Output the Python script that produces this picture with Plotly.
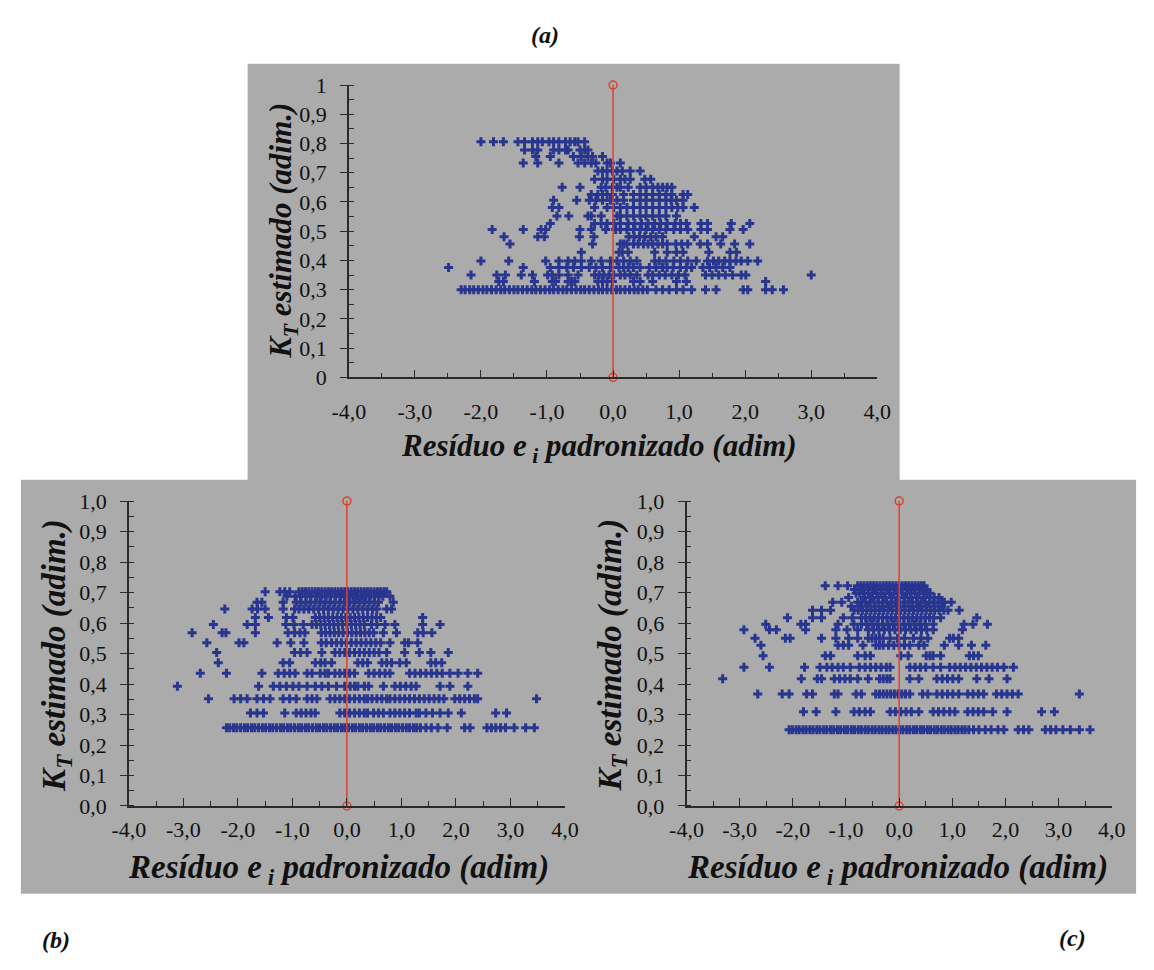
import plotly.graph_objects as go

# ---------------- data ----------------
X_TICKVALS = [-4, -3, -2, -1, 0, 1, 2, 3, 4]
X_TICKTEXT = ["-4,0", "-3,0", "-2,0", "-1,0", "0,0", "1,0", "2,0", "3,0", "4,0"]
Y_TICKVALS = [0, 0.1, 0.2, 0.3, 0.4, 0.5, 0.6, 0.7, 0.8, 0.9, 1.0]
YA_TICKTEXT = ["0", "0,1", "0,2", "0,3", "0,4", "0,5", "0,6", "0,7", "0,8", "0,9", "1"]
YBC_TICKTEXT = ["0,0", "0,1", "0,2", "0,3", "0,4", "0,5", "0,6", "0,7", "0,8", "0,9", "1,0"]

ZERO_LINE_X = [0, 0]
ZERO_LINE_Y = [0, 1]

# Panel (a): KT estimated levels and standardized residuals on each level
A_LEVELS = [0.806, 0.778, 0.756, 0.733, 0.706, 0.678, 0.650, 0.626, 0.606, 0.581, 0.552,
            0.526, 0.506, 0.481, 0.456, 0.428, 0.398, 0.376, 0.350, 0.328, 0.300]
A_ROWS = [
    [-2.00, -1.81, -1.66, -1.44, -1.34, -1.22, -1.14, -1.07, -0.97, -0.90, -0.82, -0.72, -0.65, -0.58, -0.53, -0.43],
    [-1.34, -1.22, -1.14, -0.90, -0.82, -0.72, -0.68, -0.50, -0.43, -0.38],
    [-1.17, -0.95, -0.60, -0.48, -0.38, -0.31, -0.16],
    [-1.36, -1.14, -0.82, -0.53, -0.43, -0.33, -0.26, -0.09, -0.04, 0.11],
    [-0.23, -0.16, -0.09, -0.01, 0.06, 0.14, 0.26, 0.41],
    [-0.28, -0.16, -0.09, 0.01, 0.11, 0.18, 0.26, 0.48, 0.57],
    [-0.77, -0.50, -0.18, -0.11, -0.01, 0.06, 0.11, 0.23, 0.41, 0.50, 0.60, 0.68, 0.75, 0.82, 0.89],
    [-0.33, -0.23, -0.16, -0.09, -0.01, 0.16, 0.31, 0.41, 0.50, 0.60, 0.70, 0.80, 0.89, 1.06, 1.13],
    [-0.90, -0.55, -0.36, -0.26, -0.16, -0.04, 0.06, 0.16, 0.31, 0.41, 0.50, 0.60, 0.70, 0.80, 0.88, 0.96, 1.06],
    [-0.92, -0.82, -0.28, -0.09, 0.01, 0.11, 0.21, 0.31, 0.41, 0.50, 0.60, 0.70, 0.80, 0.89, 0.98, 1.06, 1.23],
    [-0.85, -0.67, -0.38, -0.33, -0.18, 0.06, 0.11, 0.21, 0.31, 0.41, 0.50, 0.60, 0.70, 0.80, 0.96],
    [-0.95, -0.28, -0.18, -0.09, 0.01, 0.11, 0.23, 0.33, 0.43, 0.53, 0.63, 0.72, 0.82, 0.94, 1.02, 1.11, 1.33, 1.43, 1.79, 2.07],
    [-1.83, -1.36, -1.09, -1.02, -0.50, -0.33, -0.11, 0.04, 0.11, 0.21, 0.31, 0.41, 0.50, 0.60, 0.70, 0.80, 0.92, 1.02, 1.13, 1.33, 1.43, 1.77, 1.97],
    [-1.65, -1.14, -1.04, -0.51, -0.29, 0.24, 0.32, 0.40, 0.48, 0.57, 0.65, 0.75, 1.23, 1.56, 1.66],
    [-1.56, -0.31, 0.11, 0.16, 0.21, 0.31, 0.38, 0.46, 0.53, 0.60, 0.68, 0.75, 0.82, 0.95, 1.04, 1.13, 1.32, 1.43, 1.63, 1.84, 2.07],
    [-0.48, 0.09, 0.14, 0.23, 0.63, 0.82, 0.96, 1.06, 1.45, 1.77, 1.87],
    [-2.00, -1.58, -1.02, -0.82, -0.68, -0.58, -0.48, -0.33, -0.18, -0.04, 0.06, 0.16, 0.26, 0.36, 0.63, 0.70, 0.80, 0.92,
     1.02, 1.13, 1.26, 1.43, 1.52, 1.60, 1.69, 1.77, 1.86, 1.94, 2.04, 2.19],
    [-2.49, -1.36, -0.95, -0.82, -0.70, -0.60, -0.48, -0.36, -0.26, -0.16, -0.04, 0.09, 0.16, 0.23, 0.31, 0.41, 0.55, 0.65,
     0.75, 0.82, 0.91, 1.02, 1.11, 1.19, 1.36, 1.46, 1.56, 1.66, 1.77],
    [-2.15, -1.76, -1.63, -1.39, -1.22, -0.99, -0.92, -0.82, -0.68, -0.53, -0.28, -0.21, -0.14, -0.06, 0.01, 0.11, 0.18, 0.26,
     0.36, 0.53, 0.60, 0.70, 0.79, 0.89, 0.99, 1.09, 1.40, 1.50, 1.60, 1.70, 1.81, 1.94, 2.01, 3.00],
    [-1.73, -1.66, -1.19, -0.92, -0.87, -0.68, -0.63, -0.58, -0.23, -0.16, -0.09, -0.01, 0.31, 0.41, 0.60, 0.96, 1.11, 2.31],
    [-2.30, -2.24, -2.17, -2.11, -2.04, -1.97, -1.91, -1.84, -1.77, -1.70, -1.64, -1.57, -1.50, -1.44, -1.37, -1.30, -1.23,
     -1.17, -1.10, -1.03, -0.96, -0.90, -0.83, -0.76, -0.70, -0.63, -0.56, -0.49, -0.43, -0.36, -0.29, -0.22, -0.16, -0.09,
     -0.02, 0.05, 0.11, 0.18, 0.25, 0.32, 0.38, 0.45, 0.52, 0.65, 0.75, 0.85, 0.96, 1.06, 1.19, 1.40, 1.56, 1.97, 2.04,
     2.31, 2.41, 2.58],
]

# Panel (b)
B_LEVELS = [0.703, 0.688, 0.668, 0.646, 0.618, 0.595, 0.568, 0.535, 0.503, 0.470, 0.435,
            0.393, 0.352, 0.305, 0.257]
B_ROWS = [
    [-1.50, -1.23, -1.14, -1.05, -0.88, -0.82, -0.76, -0.70, -0.64, -0.58, -0.52, -0.46, -0.40, -0.34, -0.28, -0.22, -0.16,
     -0.10, -0.04, 0.02, 0.08, 0.14, 0.20, 0.26, 0.32, 0.38, 0.44, 0.50, 0.56, 0.62, 0.68, 0.73],
    [-1.10, -0.95, -0.85, -0.75, -0.66, -0.55, -0.47, -0.38, -0.30, -0.21, -0.12, -0.05, 0.03, 0.11, 0.19, 0.27, 0.35, 0.43,
     0.51, 0.59, 0.66, 0.79],
    [-1.65, -1.56, -1.17, -0.93, -0.84, -0.75, -0.67, -0.58, -0.49, -0.40, -0.31, -0.22, -0.13, -0.04, 0.05, 0.14, 0.23,
     0.32, 0.41, 0.50, 0.58, 0.85],
    [-2.24, -1.74, -1.64, -1.50, -1.17, -0.96, -0.88, -0.79, -0.70, -0.61, -0.52, -0.43, -0.34, -0.25, -0.16, -0.07, 0.02,
     0.11, 0.20, 0.29, 0.38, 0.47, 0.55, 0.73, 0.82],
    [-1.68, -1.44, -1.11, -0.99, -0.58, -0.50, -0.42, -0.34, -0.26, -0.18, -0.10, -0.02, 0.06, 0.14, 0.22, 0.30, 0.38, 0.46,
     0.54, 0.62, 1.39],
    [-2.45, -1.83, -1.68, -1.12, -0.97, -0.80, -0.64, -0.56, -0.48, -0.40, -0.32, -0.24, -0.16, -0.08, 0.00, 0.08, 0.16,
     0.24, 0.32, 0.45, 0.55, 0.70, 0.88, 1.39, 1.71],
    [-2.84, -2.29, -2.22, -1.68, -1.08, -0.96, -0.86, -0.77, -0.47, -0.39, -0.31, -0.23, -0.15, -0.07, 0.01, 0.09, 0.17,
     0.25, 0.33, 0.41, 0.49, 0.67, 0.91, 1.30, 1.40, 1.56],
    [-2.57, -1.98, -1.89, -1.28, -1.03, -0.79, -0.47, -0.38, -0.28, -0.19, -0.10, -0.01, 0.08, 0.17, 0.26, 0.35, 0.44,
     0.53, 0.62, 0.79, 1.06, 1.13, 1.30],
    [-2.39, -0.96, -0.85, -0.73, -0.46, -0.22, -0.13, -0.04, 0.05, 0.14, 0.23, 0.32, 0.41, 0.50, 0.59, 0.73, 1.06, 1.33,
     1.54, 1.86],
    [-2.36, -1.17, -1.05, -0.58, -0.48, -0.40, -0.28, 0.20, 0.29, 0.38, 0.64, 0.73, 0.82, 0.97, 1.09, 1.54, 1.63, 1.74],
    [-2.69, -2.21, -1.56, -1.26, -1.15, -1.05, -0.95, -0.73, -0.64, -0.49, -0.40, -0.34, -0.22, -0.13, -0.04, 0.05, 0.14,
     0.40, 0.50, 0.60, 0.70, 0.79, 1.15, 1.25, 1.35, 1.45, 1.55, 1.65, 1.75, 1.89, 2.04, 2.22, 2.40],
    [-3.11, -1.62, -1.35, -1.23, -1.11, -0.99, -0.88, -0.73, -0.58, -0.46, -0.34, -0.19, -0.04, 0.06, 0.14, 0.20, 0.32,
     0.40, 0.67, 0.88, 0.98, 1.08, 1.18, 1.27, 1.71, 1.89, 2.22],
    [-2.54, -2.07, -1.95, -1.83, -1.65, -1.53, -1.41, -1.17, -1.05, -0.93, -0.73, -0.64, -0.55, -0.31, -0.22, -0.13, -0.04,
     0.05, 0.14, 0.23, 0.32, 0.38, 0.46, 0.55, 0.64, 0.73, 0.79, 0.88, 0.97, 1.06, 1.15, 1.24, 1.33, 1.42, 1.51, 1.60,
     1.69, 1.78, 1.98, 2.07, 2.16, 2.25, 2.34, 2.40, 3.48],
    [-1.77, -1.65, -1.53, -1.14, -0.93, -0.84, -0.75, -0.66, -0.58, -0.13, -0.04, 0.05, 0.14, 0.23, 0.32, 0.38, 0.49,
     0.58, 0.67, 0.79, 0.88, 0.97, 1.06, 1.15, 1.27, 1.33, 1.45, 1.57, 1.71, 1.86, 2.10, 2.73, 2.93],
    [-2.21, -2.15, -2.08, -2.02, -1.95, -1.88, -1.82, -1.75, -1.69, -1.62, -1.55, -1.49, -1.42, -1.36, -1.29, -1.22, -1.16,
     -1.09, -1.03, -0.96, -0.89, -0.83, -0.76, -0.70, -0.63, -0.56, -0.50, -0.43, -0.37, -0.30, -0.23, -0.17, -0.10,
     -0.04, 0.03, 0.10, 0.16, 0.23, 0.29, 0.36, 0.43, 0.49, 0.56, 0.62, 0.69, 0.76, 0.82, 0.89, 0.95, 1.02, 1.09, 1.15,
     1.22, 1.28, 1.35, 1.45, 1.55, 1.67, 1.84, 2.16, 2.26, 2.57, 2.65, 2.73, 2.82, 2.91, 3.07, 3.28, 3.44],
]

# Panel (c)
C_LEVELS = [0.722, 0.710, 0.698, 0.684, 0.668, 0.655, 0.642, 0.617, 0.596, 0.578, 0.550,
            0.527, 0.493, 0.455, 0.417, 0.367, 0.309, 0.250]
C_ROWS = [
    [-1.39, -1.15, -0.97, -0.78, -0.72, -0.66, -0.60, -0.54, -0.48, -0.42, -0.36, -0.30, -0.24, -0.18, -0.12, -0.06, 0.00,
     0.06, 0.12, 0.18, 0.24, 0.30, 0.36, 0.42, 0.47],
    [-0.84, -0.70, -0.58, -0.45, -0.33, -0.20, -0.08, 0.04, 0.16, 0.28, 0.40, 0.52],
    [-0.81, -0.74, -0.66, -0.58, -0.50, -0.42, -0.34, -0.26, -0.18, -0.10, -0.02, 0.06, 0.14, 0.22, 0.30, 0.38, 0.46,
     0.52, 0.58],
    [-0.95, -0.66, -0.52, -0.40, -0.28, -0.14, -0.02, 0.10, 0.22, 0.34, 0.46, 0.58, 0.66, 0.75],
    [-1.25, -1.08, -0.78, -0.71, -0.63, -0.55, -0.47, -0.39, -0.31, -0.23, -0.15, -0.07, 0.01, 0.09, 0.17, 0.25, 0.33,
     0.41, 0.49, 0.57, 0.65, 0.73, 0.80, 0.85, 0.98],
    [-0.90, -0.74, -0.60, -0.46, -0.32, -0.18, -0.04, 0.10, 0.24, 0.38, 0.52, 0.66, 0.80],
    [-1.63, -1.46, -1.29, -0.85, -0.77, -0.69, -0.61, -0.53, -0.45, -0.37, -0.29, -0.21, -0.13, -0.05, 0.03, 0.11, 0.19,
     0.27, 0.35, 0.43, 0.51, 0.59, 0.67, 0.75, 0.84, 0.92, 1.13],
    [-2.10, -1.63, -1.46, -1.05, -0.88, -0.71, -0.63, -0.55, -0.47, -0.39, -0.31, -0.23, -0.15, -0.07, 0.01, 0.09, 0.17,
     0.25, 0.33, 0.41, 0.49, 0.57, 0.65, 0.78, 1.46],
    [-2.51, -1.85, -1.76, -1.15, -0.85, -0.71, -0.61, -0.51, -0.41, -0.31, -0.21, -0.11, -0.01, 0.09, 0.19, 0.29, 0.39,
     0.49, 0.64, 1.22, 1.39, 1.66],
    [-2.92, -2.44, -2.31, -1.76, -1.19, -0.98, -0.78, -0.58, -0.48, -0.38, -0.28, -0.18, -0.08, 0.02, 0.12, 0.22, 0.32,
     0.42, 0.52, 0.64, 1.19],
    [-2.71, -2.14, -2.05, -1.46, -1.19, -0.95, -0.78, -0.58, -0.51, -0.44, -0.37, -0.30, -0.17, -0.03, 0.10, 0.27, 0.41,
     0.54, 0.95, 1.02, 1.12],
    [-2.60, -1.15, -1.05, -0.95, -0.68, -0.44, -0.37, -0.30, -0.20, -0.10, 0.00, 0.10, 0.20, 0.37, 0.47, 0.85, 1.12,
     1.36, 1.63],
    [-2.56, -1.39, -1.29, -0.78, -0.64, -0.54, 0.03, 0.17, 0.51, 0.58, 0.64, 0.78, 1.32, 1.40, 1.49],
    [-2.92, -2.44, -1.78, -1.49, -1.36, -1.26, -1.15, -1.05, -0.92, -0.75, -0.64, -0.54, -0.44, -0.34, -0.24, -0.17,
     0.20, 0.30, 0.40, 0.50, 0.64, 0.78, 0.95, 1.05, 1.15, 1.25, 1.35, 1.45, 1.55, 1.65, 1.75, 1.85, 1.97, 2.15],
    [-3.32, -1.84, -1.54, -1.46, -1.22, -1.12, -1.02, -0.92, -0.78, -0.58, -0.37, -0.30, -0.23, -0.17, 0.20, 0.37, 0.71,
     0.81, 0.91, 1.01, 1.12, 1.46, 1.69, 2.03],
    [-2.66, -2.20, -2.07, -1.74, -1.63, -1.22, -1.15, -0.81, -0.71, -0.44, -0.37, -0.30, -0.23, -0.16, -0.09, -0.02,
     0.05, 0.12, 0.20, 0.44, 0.54, 0.71, 0.81, 0.91, 1.01, 1.12, 1.29, 1.39, 1.49, 1.59, 1.83, 1.93, 2.03, 2.13, 2.24,
     3.39],
    [-1.80, -1.56, -1.19, -0.85, -0.75, -0.64, -0.54, -0.17, -0.07, 0.03, 0.13, 0.23, 0.37, 0.64, 0.74, 0.84, 0.95,
     1.05, 1.29, 1.39, 1.49, 1.59, 1.76, 2.03, 2.68, 2.92],
    [-2.07, -2.01, -1.94, -1.88, -1.81, -1.75, -1.68, -1.62, -1.55, -1.49, -1.42, -1.36, -1.29, -1.23, -1.16, -1.10,
     -1.03, -0.97, -0.90, -0.84, -0.77, -0.71, -0.64, -0.58, -0.51, -0.45, -0.38, -0.32, -0.25, -0.19, -0.12, -0.06,
     0.01, 0.07, 0.14, 0.20, 0.27, 0.33, 0.40, 0.46, 0.53, 0.59, 0.66, 0.72, 0.79, 0.85, 0.92, 0.98, 1.05, 1.11, 1.18,
     1.24, 1.31, 1.40, 1.50, 1.62, 1.73, 1.86, 1.97, 2.24, 2.34, 2.44, 2.75, 2.85, 2.95, 3.08, 3.22, 3.39, 3.59],
]

# ---------------- layout helpers ----------------
W, H = 1154, 970


def fx(p):
    return p / W


def fy(p):
    return 1 - p / H


def flatten(levels, rows):
    xs, ys = [], []
    for lv, row in zip(levels, rows):
        for v in row:
            xs.append(v)
            ys.append(lv)
    return xs, ys


SERIF = "Liberation Serif"
MARK_COLOR = "#283690"
RED = "#e0402c"
AX_COLOR = "#2a2a2a"

fig = go.Figure()

panels = [
    ("x", "y", A_LEVELS, A_ROWS),
    ("x2", "y2", B_LEVELS, B_ROWS),
    ("x3", "y3", C_LEVELS, C_ROWS),
]
for xa, ya, lv, rows in panels:
    xs, ys = flatten(lv, rows)
    fig.add_trace(go.Scatter(
        x=xs, y=ys, xaxis=xa, yaxis=ya, mode="markers",
        marker=dict(symbol="cross", size=7.5, color=MARK_COLOR, line=dict(width=0)),
        showlegend=False, hoverinfo="skip"))
    fig.add_trace(go.Scatter(
        x=ZERO_LINE_X, y=ZERO_LINE_Y, xaxis=xa, yaxis=ya, mode="lines+markers",
        line=dict(color=RED, width=1.5),
        marker=dict(symbol="circle-open", size=8, color=RED, line=dict(width=1.5)),
        showlegend=False, hoverinfo="skip", cliponaxis=False))

dom = {
    "a": dict(x=[fx(341), fx(884)], y=[fy(375), fy(75)]),
    "b": dict(x=[fx(115), fx(563)], y=[fy(815), fy(502)]),
    "c": dict(x=[fx(688), fx(1125)], y=[fy(815), fy(502)]),
}

TICKFONT = dict(family=SERIF, size=22, color="#111")


def xaxis(d, anchor, standoff):
    return dict(domain=d, anchor=anchor, range=[-4, 4], tickmode="array",
                tickvals=X_TICKVALS, ticktext=X_TICKTEXT, ticks="inside", ticklen=8,
                tickwidth=1.3, tickcolor=AX_COLOR,
                minor=dict(tickmode="linear", tick0=0, dtick=0.5, ticks="inside", ticklen=5,
                           tickwidth=1, tickcolor=AX_COLOR),
                showline=True, linecolor=AX_COLOR, linewidth=1.6, showgrid=False, zeroline=False,
                tickfont=TICKFONT, ticklabelstandoff=standoff, fixedrange=True)


def yaxis(d, anchor, text):
    return dict(domain=d, anchor=anchor, range=[0, 1], tickmode="array",
                tickvals=Y_TICKVALS, ticktext=text, ticks="outside", ticklen=7,
                tickwidth=1.3, tickcolor=AX_COLOR,
                minor=dict(tickmode="linear", tick0=0, dtick=0.05, ticks="inside", ticklen=5,
                           tickwidth=1, tickcolor=AX_COLOR),
                showline=True, linecolor=AX_COLOR, linewidth=1.6, showgrid=False, zeroline=False,
                tickfont=TICKFONT, ticklabelstandoff=9, fixedrange=True)


fig.update_layout(
    width=W, height=H,
    margin=dict(l=0, r=0, t=0, b=0),
    paper_bgcolor="white", plot_bgcolor="white",
    xaxis=xaxis(dom["a"]["x"], "y", 13),
    yaxis=yaxis(dom["a"]["y"], "x", YA_TICKTEXT),
    xaxis2=xaxis(dom["b"]["x"], "y2", 3),
    yaxis2=yaxis(dom["b"]["y"], "x2", YBC_TICKTEXT),
    xaxis3=xaxis(dom["c"]["x"], "y3", 3),
    yaxis3=yaxis(dom["c"]["y"], "x3", YBC_TICKTEXT),
)

GRAY = "#ababab"
fig.add_shape(type="rect", xref="paper", yref="paper", layer="below",
              x0=fx(237), x1=fx(907), y0=fy(484), y1=fy(53), fillcolor=GRAY, line=dict(width=0))
fig.add_shape(type="rect", xref="paper", yref="paper", layer="below",
              x0=fx(4), x1=fx(1150), y0=fy(905), y1=fy(480), fillcolor=GRAY, line=dict(width=0))

XTITLE = "<b><i>Resíduo e<sub> i</sub> padronizado (adim)</i></b>"
YTITLE = "<b><i>K<sub>T</sub> estimado (adim.)</i></b>"


def ann(text, x, y, size, angle=0):
    fig.add_annotation(text=text, x=fx(x), y=fy(y), xref="paper", yref="paper",
                       showarrow=False, xanchor="center", yanchor="middle", textangle=angle,
                       font=dict(family=SERIF, size=size, color="#111"))


ann("<b><i>(a)</i></b>", 543, 24, 24)
ann("<b><i>(b)</i></b>", 40, 953, 24)
ann("<b><i>(c)</i></b>", 1085, 950, 24)
ann(XTITLE, 598, 448, 31)
ann(XTITLE, 330, 880, 33)
ann(XTITLE, 905, 880, 33)
ann(YTITLE, 274, 225, 31, -90)
ann(YTITLE, 41, 660, 33, -90)
ann(YTITLE, 612, 660, 33, -90)

fig.write_html("out.html")
